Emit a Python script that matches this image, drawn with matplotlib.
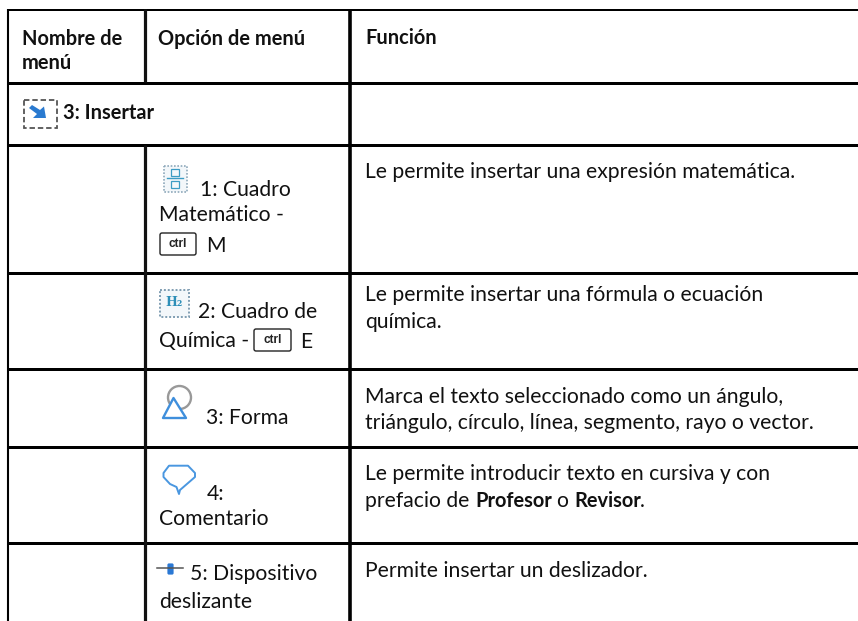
import matplotlib
matplotlib.use("Agg")
import matplotlib.pyplot as plt
from matplotlib.patches import Circle, FancyBboxPatch, Polygon, Rectangle

WIDTH = 858
HEIGHT = 621

header = ["Nombre de\nmenú", "Opción de menú", "Función"]
section = "3: Insertar"
menu_options = ["1: Cuadro", "Matemático -", "M", "2: Cuadro de", "Química -", "E",
                "3: Forma", "4:", "Comentario", "5: Dispositivo", "deslizante"]
functions = ["Le permite insertar una expresión matemática.",
             "Le permite insertar una fórmula o ecuación", "química.",
             "Marca el texto seleccionado como un ángulo,",
             "triángulo, círculo, línea, segmento, rayo o vector.",
             "Le permite introducir texto en cursiva y con",
             "Permite insertar un deslizador."]
prefacio = ["prefacio de", "Profesor", "o", "Revisor", "."]

plt.rcParams["font.family"] = ["Lato", "DejaVu Sans"]
fig = plt.figure(figsize=(WIDTH / 100, HEIGHT / 100), dpi=100)
ax = fig.add_axes([0, 0, 1, 1])
ax.set_xlim(0, WIDTH)
ax.set_ylim(HEIGHT, 0)
ax.axis("off")

FS = 15.2
FS_BOLD = 14.4
TXT = "#111111"


def label(x, y, s, bold=False):
    ax.text(x, y + 1, s, fontsize=FS_BOLD if bold else FS, color=TXT, ha="left", va="baseline",
            fontweight="bold" if bold else "normal")


def ctrl_key(x0, y0, x1, y1):
    ax.add_patch(FancyBboxPatch((x0 + 1, y0 + 1), x1 - x0 - 2, y1 - y0 - 2,
                                boxstyle="round,pad=1,rounding_size=2",
                                fc="white", ec="#222222", lw=1.0))
    ax.text((x0 + x1) / 2, (y0 + y1) / 2 + 0.3, "ctrl", fontsize=8.5, fontweight="bold",
            color="#222222", ha="center", va="center", family=["Liberation Sans"])


# lineas de la tabla (px: 1 px = 0.72 pt)
for y, w in [(10, 2), (82.5, 3), (145, 3), (272.5, 3), (369, 3), (446.5, 3), (542.7, 3)]:
    ax.plot([8, WIDTH], [y, y], color="black", lw=w * 0.72, solid_capstyle="butt")
ax.plot([8, 8], [9, HEIGHT], color="black", lw=1.5, solid_capstyle="butt")
ax.plot([144.5, 144.5], [9, 82], color="#111111", lw=2.3, solid_capstyle="butt")
ax.plot([144.5, 144.5], [145, HEIGHT], color="#111111", lw=2.3, solid_capstyle="butt")
ax.plot([350, 350], [9, HEIGHT], color="black", lw=2.6, solid_capstyle="butt")

# cabecera
first, second = header[0].split("\n")
label(21.5, 44, first, True)
label(21.5, 68, second, True)
label(158.5, 44, header[1], True)
label(365, 43, header[2], True)
label(63, 118, section, True)

# columna de opciones
opt_pos = [(200, 195), (159, 220), (206, 250.5), (198, 317), (159, 346.5), (300, 346.5),
           (206, 422.5), (207, 498.5), (159, 524), (190.5, 579), (159, 607.5)]
for (x, y), s in zip(opt_pos, menu_options):
    label(x, y, s)
ctrl_key(160, 233, 196, 255)
ctrl_key(254, 329, 291, 351)

# columna de funcion
fun_y = [176.7, 300, 327, 401.7, 428, 479, 576]
for y, s in zip(fun_y, functions):
    label(365, y, s)
for x, s, b in zip([365, 475, 556.5, 574, 640], prefacio, [False, True, False, True, False]):
    label(x, 506, s, b)

# icono insertar
ax.add_patch(Rectangle((23.5, 99.5), 33, 28, fc="none", ec="#555555", lw=1.3, ls=(0, (3, 1.6))))
ax.add_patch(Polygon([(29, 108), (32, 105), (40, 110), (44, 106.5), (46, 118), (33, 118), (37, 114)],
                     closed=True, fc="#2a7ad0", ec="none"))

# icono cuadro matematico
ax.add_patch(Rectangle((163.5, 165.5), 23, 26, fc="#f3f7fa", ec="#8fa9bb", lw=1.2, ls=(0, (1, 1))))
ax.add_patch(Rectangle((171, 169), 8, 6.5, fc="none", ec="#3c9cc4", lw=0.9))
ax.add_patch(Rectangle((171, 181), 8, 6.5, fc="none", ec="#3c9cc4", lw=0.9))
ax.plot([167, 183], [178, 178], color="#3c9cc4", lw=1.0)

# icono cuadro de quimica
ax.add_patch(Rectangle((159.5, 289.5), 29, 27, fc="#f3f7fa", ec="#7f9db2", lw=1.4, ls=(0, (1, 1))))
ax.text(174, 302, "H₂", fontsize=9, fontweight="bold", color="#2e8fb8", ha="center", va="center",
        family=["DejaVu Serif"])

# icono forma
ax.add_patch(Circle((179.5, 397.5), 11.5, fc="none", ec="#999999", lw=1.7))
ax.add_patch(Polygon([(163, 418), (186, 418), (173.5, 398)], closed=True, fc="white", ec="#3f8fdc",
                     lw=1.7, joinstyle="round"))

# icono comentario
ax.add_patch(Polygon([(169, 465.7), (188, 465.7), (195, 473), (195, 477), (180, 490),
                      (179, 494), (176.5, 487), (170, 484), (163.5, 477), (163.5, 473)],
                     closed=True, fc="white", ec="#4a97e0", lw=1.4, joinstyle="round"))

# icono deslizador
ax.plot([157, 183], [568, 568], color="#555555", lw=1.1)
ax.add_patch(FancyBboxPatch((168, 564), 5, 10, boxstyle="round,pad=0.6,rounding_size=1.5",
                            fc="#2a78d4", ec="none"))

fig.savefig("out.png", dpi=100, facecolor="white")
